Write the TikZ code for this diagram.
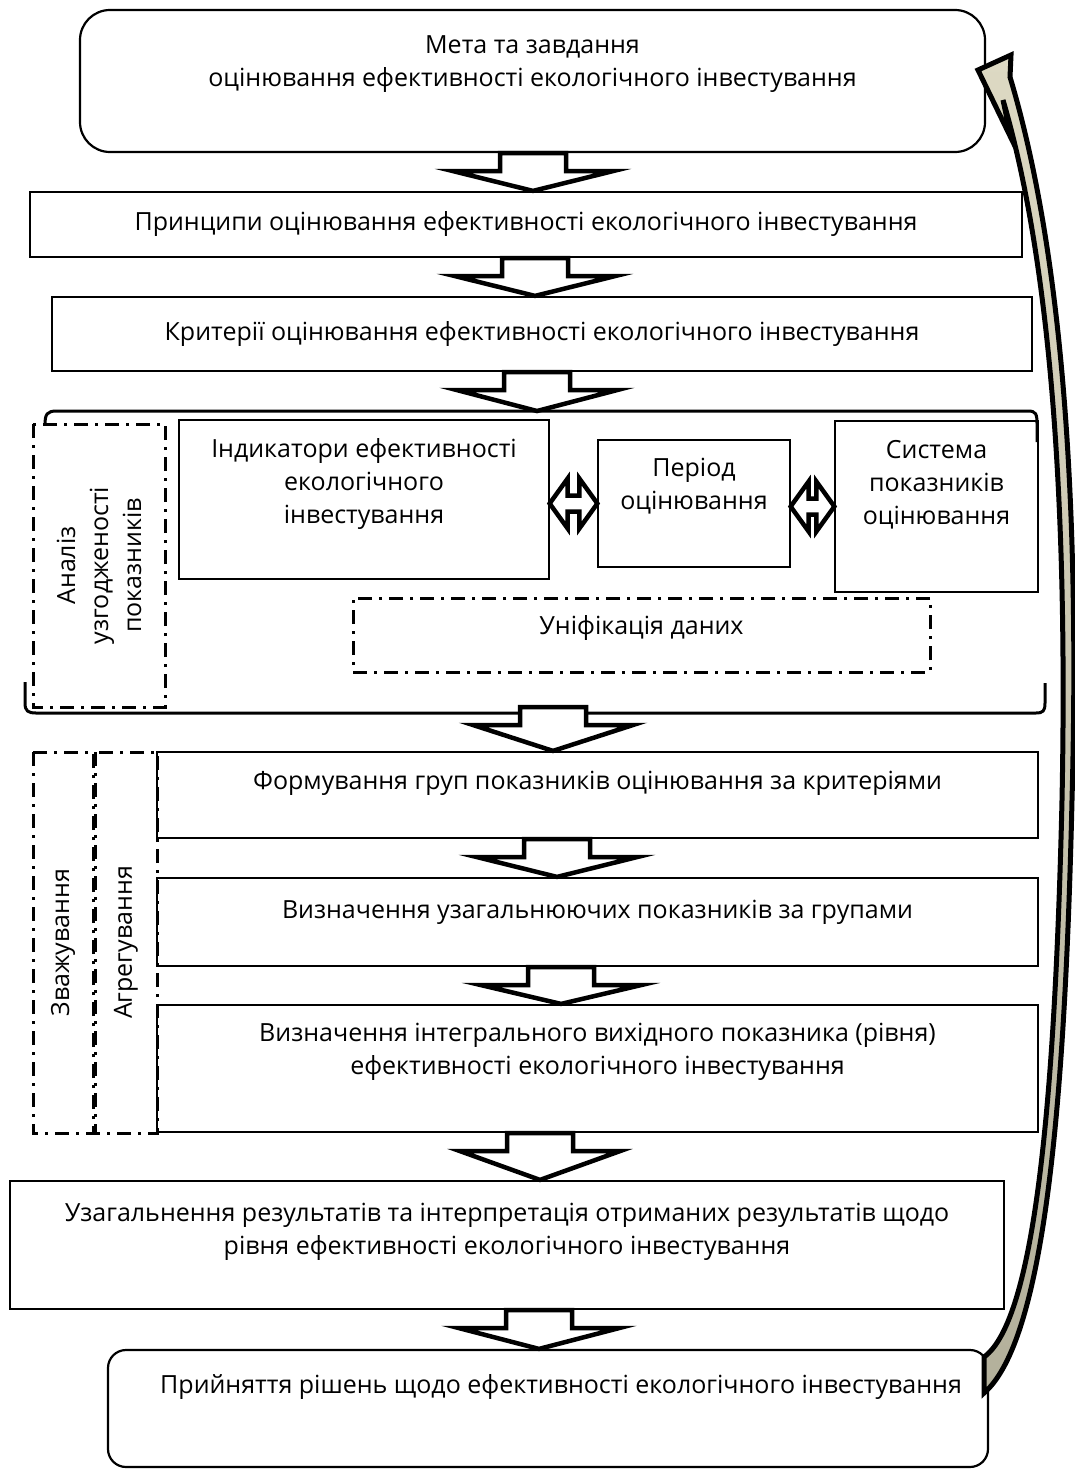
\documentclass[tikz,border=0pt]{standalone}
\usepackage{fontspec}
\setmainfont{Open Sans}
\usetikzlibrary{calc}
\definecolor{fbtop}{HTML}{DDD9C3}
\definecolor{fbbottom}{HTML}{B3B09B}

\tikzset{
	box/.style={draw, line width=2.2pt, align=center, inner sep=0pt},
	thinbox/.style={draw, line width=1.3pt, align=center, inner sep=0pt},
	dashbox/.style={draw, line width=3pt, dash pattern=on 14pt off 7pt on 3pt off 7pt, align=center, inner sep=0pt},
	lift/.style={text depth=#1},
	flowarrow/.style={draw, fill=white, line width=4.5pt, line join=miter},
	duoarrow/.style={draw, fill=white, line width=4.5pt, line join=miter},
	bracket/.style={draw, line width=3pt},
	feedback/.style={draw, line width=5pt, line join=miter, top color=fbtop, bottom color=fbbottom},
}

% block arrow: centre x, from anchor, to anchor
\newcommand{\flowdown}[3]{\draw[flowarrow] let \p1=(#2), \p2=(#3) in
	({#1pt-33pt},\y1) -- ({#1pt-33pt},{\y1-18pt}) -- ({#1pt-80pt},{\y1-18pt}) -- ({#1pt},\y2)
	-- ({#1pt+80pt},{\y1-18pt}) -- ({#1pt+33pt},{\y1-18pt}) -- ({#1pt+33pt},\y1) -- cycle;}
% two headed arrow between two boxes
\newcommand{\swapping}[2]{\draw[duoarrow] let \p1=(#1.east |- #2.west), \p2=(#2.west) in
	(\x1,\y1) -- ({\x1+18pt},{\y1+25pt}) -- ({\x1+18pt},{\y1+8pt}) -- ({\x2-18pt},{\y1+8pt})
	-- ({\x2-18pt},{\y1+25pt}) -- (\x2,\y1) -- ({\x2-18pt},{\y1-25pt}) -- ({\x2-18pt},{\y1-8pt})
	-- ({\x1+18pt},{\y1-8pt}) -- ({\x1+18pt},{\y1-25pt}) -- cycle;}

\begin{document}
\begin{tikzpicture}[x=1pt, y=-1pt, font=\fontsize{25}{33}\selectfont]
	%%%%% START %%%%%
	\useasboundingbox (0,0) rectangle (1074,1472);
	\fill[white] (0,0) rectangle (1074,1472);
	
	\node (meta) [box, rounded corners=30pt, minimum width=905pt, minimum height=142pt, lift=40pt] at (532.5,81) {Мета та завдання\\оцінювання ефективності екологічного інвестування};
	\node (prin) [box, minimum width=992pt, minimum height=65pt] at (526,224.5) {Принципи оцінювання ефективності екологічного інвестування};
	\node (krit) [box, minimum width=980pt, minimum height=74pt] at (542,334) {Критерії оцінювання ефективності екологічного інвестування};
	
	% bracket round the indicators
	\coordinate (brtop) at (0,411);
	\coordinate (brbot) at (0,707);
	\draw[bracket] (45,425) .. controls (45,414) and (47,411) .. (57,411) -- (1028,411) .. controls (1036,411) and (1037,414) .. (1037,424) -- (1037,442);
	\draw[bracket] (25,682) -- (25,703) .. controls (25,711) and (28,713) .. (36,713) -- (1036,713) .. controls (1043,713) and (1045,711) .. (1045,703) -- (1045,683);
	
	\node (analiz) [dashbox, rotate=90, minimum width=283pt, minimum height=132pt] at (99,565.5) {Аналіз\\узгодженості\\показників};
	\node (indyk) [thinbox, minimum width=370pt, minimum height=159pt, lift=38pt] at (364,499.5) {Індикатори ефективності\\екологічного\\інвестування};
	\node (period) [thinbox, minimum width=192pt, minimum height=127pt, lift=40pt] at (694,503.5) {Період\\оцінювання};
	\node (system) [thinbox, minimum width=203pt, minimum height=171pt, lift=49pt] at (936.5,506.5) {Система\\показників\\оцінювання};
	\node (unif) [dashbox, minimum width=577pt, minimum height=74pt, lift=20pt] at (641.5,635) {Уніфікація даних};
	
	\swapping{indyk}{period}
	\swapping{period}{system}
	
	\node (zvazh) [dashbox, rotate=90, minimum width=381pt, minimum height=60pt] at (63,942.5) {Зважування};
	\node (ahreh) [dashbox, rotate=90, minimum width=381pt, minimum height=62pt] at (126,942.5) {Агрегування};
	
	\node (form) [box, minimum width=881pt, minimum height=86pt, lift=30pt] at (597.5,795) {Формування груп показників оцінювання за критеріями};
	\node (uzag) [box, minimum width=881pt, minimum height=88pt, lift=26pt] at (597.5,922) {Визначення узагальнюючих показників за групами};
	\node (integ) [box, minimum width=881pt, minimum height=127pt, lift=40pt] at (597.5,1068.5) {Визначення інтегрального вихідного показника (рівня)\\ефективності екологічного інвестування};
	\node (uzres) [box, minimum width=994pt, minimum height=128pt, lift=32pt] at (507,1245) {Узагальнення результатів та інтерпретація отриманих результатів щодо\\рівня ефективності екологічного інвестування};
	\node (rish) [box, rounded corners=18pt, minimum width=880pt, minimum height=117pt, lift=49pt] at (548,1408.5) {\hspace*{26pt}Прийняття рішень щодо ефективності екологічного інвестування};
	
	\flowdown{533}{meta.south}{prin.north}
	\flowdown{535}{prin.south}{krit.north}
	\flowdown{537}{krit.south}{brtop}
	\flowdown{553}{brbot}{form.north}
	\flowdown{557}{form.south}{uzag.north}
	\flowdown{561}{uzag.south}{integ.north}
	\flowdown{540}{integ.south}{uzres.north}
	\flowdown{539}{uzres.south}{rish.north}
	
	% back to the top
	\draw[feedback] (978,70) -- (1011,55) -- (1010,77) .. controls (1062,250) and (1080,500) .. (1072,800) .. controls (1065,1100) and (1045,1340) .. (984,1393) -- (984,1357) .. controls (1035,1320) and (1055,1100) .. (1062,800) .. controls (1068,500) and (1050,260) .. (1003,100) -- (1011,138) -- cycle;
	%%%%% END %%%%%
\end{tikzpicture}
\end{document}
